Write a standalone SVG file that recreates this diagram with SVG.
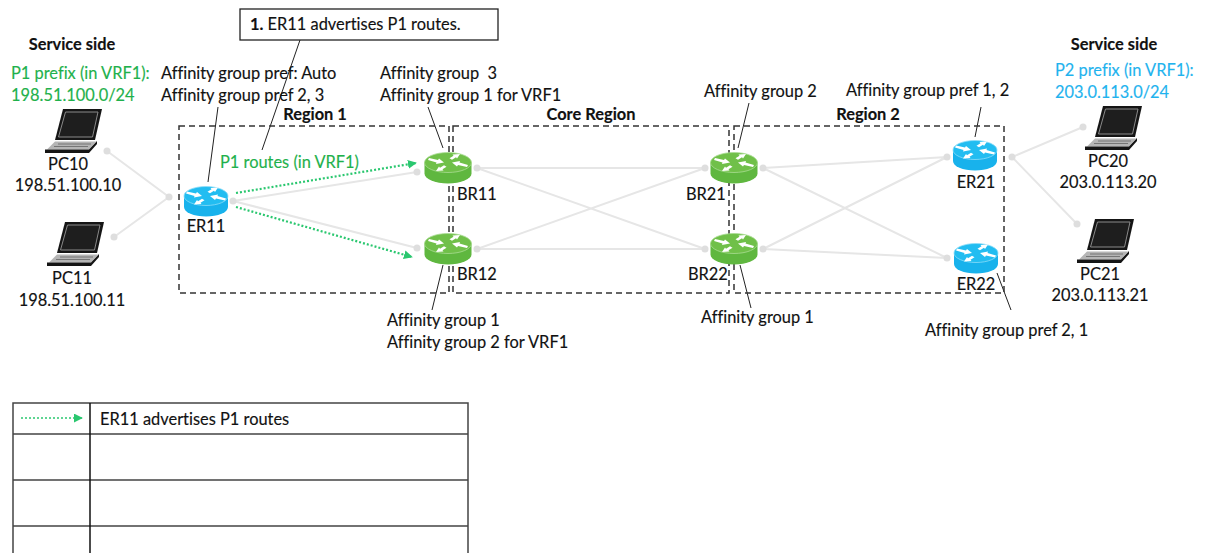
<svg xmlns="http://www.w3.org/2000/svg" width="1212" height="553" viewBox="0 0 1212 553">
<style>
text{font-family:Lato,"Open Sans",sans-serif;font-size:16.4px;fill:#111;stroke:#111;stroke-width:.15;font-variant-ligatures:none}
.b{font-weight:700}.m{text-anchor:middle}
.g{fill:#1fb14c;stroke:#1fb14c}.c{fill:#1fb3ee;stroke:#1fb3ee}
.link{stroke:#e6e6e6;stroke-width:2;fill:none}
.dot{fill:#dedede}
.lead{stroke:#222;stroke-width:1;fill:none}
.region{fill:none;stroke:#333;stroke-width:1.5;stroke-dasharray:6 4}
.adv{stroke:#2ac76f;stroke-width:2.2;stroke-dasharray:2 2;fill:none}
.cell{stroke:#444;stroke-width:1.5;fill:none}
</style>
<defs>
<marker id="ah" viewBox="0 0 10 10" refX="9" refY="5" markerWidth="9" markerHeight="9" markerUnits="userSpaceOnUse" orient="auto"><path d="M0 0L10 5L0 10z" fill="#2ac76f"/></marker>
<g id="arrows" fill="#fff"><path id="a1" d="M-19-4.500L-10-2.500L-9-4L-4 0L-12 1.500L-11.500 0L-20-2.500z"/><use href="#a1" transform="rotate(180)"/><path id="a2" d="M-12 8.500L-9 4L-8 5.200L-4 2.700L-1.500 4.300L-5.500 6.800L-4.500 8z"/><use href="#a2" transform="rotate(180)"/></g>
<g id="rg"><path d="M-23.500-5.500V5.500A23.500 10 0 0 0 23.500 5.500V-5.500z" fill="#5fb73f"/><ellipse cy="-5.500" rx="23.500" ry="10" fill="#70c049" stroke="#a9dc93" stroke-width=".8"/><use href="#arrows" y="-5.500"/></g>
<g id="rb"><path d="M-22-5V6A22 9.500 0 0 0 22 6V-5z" fill="#18b2ec"/><ellipse cy="-5" rx="22" ry="9.500" fill="#22bdf1" stroke="#8bdcf7" stroke-width=".8"/><use href="#arrows" y="-5"/></g>
<g id="pc">
<path d="M18 0H57L50 31H10z" fill="#151515"/><path d="M20.500 3H53L47.500 28H13.500z" fill="#1e1e1e" stroke="#8a8a8a" stroke-width="1"/>
<path d="M10 32.500H51L44 40.500H2z" fill="#b5b5b5"/><path d="M13 35H46M9 37.500H43" stroke="#666" stroke-width=".8" fill="none"/><path d="M0 40.500H44L52 32V35L44 44H0z" fill="#151515"/>
</g>
</defs>

<g id="connectors">
<path class="link" d="M107 151L169 197L114 237M233 201L417 172M233 201L417 248M477 168H705M477 168L705 249M477 249L705 168M477 249H705M763 168L947 157M763 168L947 258M763 249L947 157M763 249L947 258M1083 127L1012 157L1077 224"/>
<g class="dot"><circle cx="107" cy="151" r="3.500"/><circle cx="114" cy="237" r="3.500"/><circle cx="169" cy="197" r="3.500"/><circle cx="233" cy="201" r="3.500"/><circle cx="417" cy="172" r="3.500"/><circle cx="417" cy="248" r="3.500"/><circle cx="477" cy="168" r="3.500"/><circle cx="477" cy="249" r="3.500"/><circle cx="705" cy="168" r="3.500"/><circle cx="705" cy="249" r="3.500"/><circle cx="763" cy="168" r="3.500"/><circle cx="763" cy="249" r="3.500"/><circle cx="947" cy="157" r="3.500"/><circle cx="947" cy="258" r="3.500"/><circle cx="1012" cy="157" r="3.500"/><circle cx="1083" cy="127" r="3.500"/><circle cx="1077" cy="224" r="3.500"/></g>
<path class="adv" marker-end="url(#ah)" d="M236 193L416 163"/>
<path class="adv" marker-end="url(#ah)" d="M236 207L412 257"/>
<path class="lead" d="M300 40L262 150M218 107L208 182M428 107L443 148M443 265L432 310M749 103L738 148M740 265L751 308M981 107L975 137M997 273L1011 310"/>
</g>

<g id="regions">
<rect class="region" x="179" y="126" width="270" height="167"/>
<rect class="region" x="453" y="126" width="276" height="167"/>
<rect class="region" x="734" y="126" width="270" height="167"/>
<text class="b m" x="315" y="120">Region 1</text>
<text class="b m" x="591" y="120">Core Region</text>
<text class="b m" x="868" y="120">Region 2</text>
</g>

<g id="callout"><rect x="240" y="9" width="258" height="31" fill="#fff" stroke="#222" stroke-width="1.300"/><text x="250" y="30"><tspan class="b">1.</tspan> ER11 advertises P1 routes.</text></g>

<g id="service-left">
<text class="b m" x="72" y="49.500">Service side</text>
<text class="g" x="11" y="79">P1 prefix (in VRF1):</text>
<text class="g" x="11" y="101">198.51.100.0/24</text>
</g>
<g id="service-right">
<text class="b m" x="1114" y="49.500">Service side</text>
<text class="c" x="1055" y="76">P2 prefix (in VRF1):</text>
<text class="c" x="1055" y="98">203.0.113.0/24</text>
</g>

<g id="PC10"><use href="#pc" x="45" y="109"/><text class="m" x="68" y="170">PC10</text><text class="m" x="68" y="191">198.51.100.10</text></g>
<g id="PC11"><use href="#pc" x="47" y="222"/><text class="m" x="72" y="284">PC11</text><text class="m" x="72" y="306">198.51.100.11</text></g>
<g id="PC20"><use href="#pc" x="1085" y="106"/><text class="m" x="1108" y="167">PC20</text><text class="m" x="1108" y="188">203.0.113.20</text></g>
<g id="PC21"><use href="#pc" x="1077" y="219"/><text class="m" x="1100" y="280">PC21</text><text class="m" x="1100" y="301">203.0.113.21</text></g>

<g id="ER11"><use href="#rb" x="206" y="201"/><text class="m" x="206" y="232">ER11</text></g>
<g id="BR11"><use href="#rg" x="448" y="168"/><text x="457" y="200">BR11</text></g>
<g id="BR12"><use href="#rg" x="448" y="249"/><text x="457" y="280">BR12</text></g>
<g id="BR21"><use href="#rg" x="734" y="168"/><text x="686" y="200">BR21</text></g>
<g id="BR22"><use href="#rg" x="734" y="249"/><text x="688" y="280">BR22</text></g>
<g id="ER21"><use href="#rb" x="975" y="155"/><text class="m" x="976" y="188">ER21</text></g>
<g id="ER22"><use href="#rb" x="976" y="258"/><text class="m" x="976" y="290">ER22</text></g>

<g id="labels">
<text x="161" y="79">Affinity group pref: Auto</text>
<text x="161" y="101">Affinity group pref 2, 3</text>
<text x="380" y="79" xml:space="preserve">Affinity group  3</text>
<text x="380" y="101">Affinity group 1 for VRF1</text>
<text class="g" x="220" y="168">P1 routes (in VRF1)</text>
<text x="704" y="97">Affinity group 2</text>
<text x="846" y="96">Affinity group pref 1, 2</text>
<text x="387" y="326">Affinity group 1</text>
<text x="387" y="348">Affinity group 2 for VRF1</text>
<text x="701" y="323">Affinity group 1</text>
<text x="925" y="336">Affinity group pref 2, 1</text>
</g>

<g id="legend">
<path class="cell" d="M13 553V403H468V553M13 434H468M13 480H468M13 526H468"/>
<path d="M90 403V553" stroke="#111" stroke-width="1.500"/>
<path class="adv" style="stroke-width:1.500" marker-end="url(#ah)" d="M21 418H82"/>
<text x="100" y="425">ER11 advertises P1 routes</text>
</g>
</svg>
